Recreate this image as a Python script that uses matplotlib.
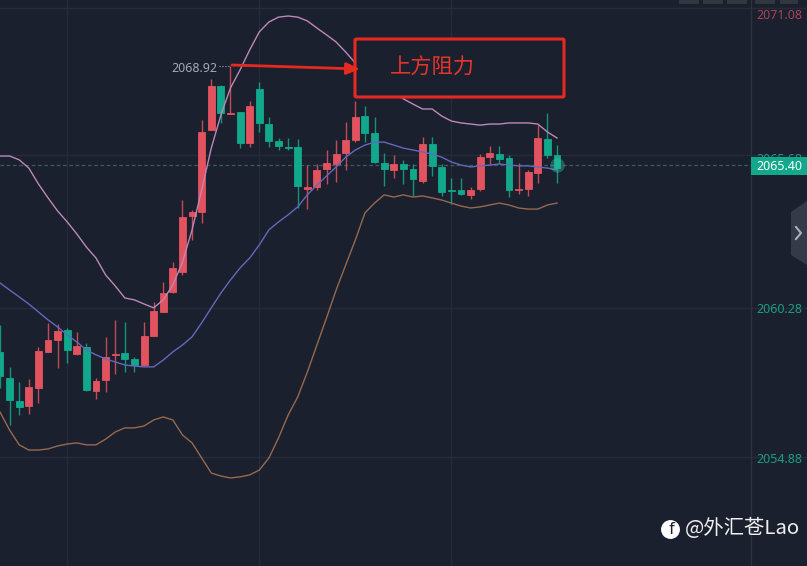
import matplotlib
matplotlib.use("Agg")
import matplotlib.pyplot as plt
from matplotlib.patches import FancyArrowPatch, FancyBboxPatch, Polygon, Rectangle

plt.rcParams['font.family'] = ['Noto Sans', 'Noto Sans CJK SC', 'DejaVu Sans']

# ======= CANDLES (price, one value per bar) =======
highs = [2059.79, 2058.25, 2057.70, 2057.81, 2058.98, 2059.86, 2059.82, 2059.68, 2059.53, 2059.13,
         2057.85, 2059.35, 2059.97, 2059.89, 2058.62, 2059.89, 2060.62, 2061.35, 2062.08, 2064.35,
         2063.99, 2067.28, 2068.78, 2068.56, 2069.25, 2067.57, 2067.97, 2068.67, 2067.39, 2066.62,
         2066.62, 2066.58, 2065.63, 2065.67, 2066.18, 2066.55, 2067.20, 2067.97, 2067.79, 2067.39,
         2066.07, 2066.00, 2065.82, 2065.67, 2066.66, 2066.66, 2065.67, 2065.16, 2065.16, 2064.83,
         2066.03, 2066.33, 2066.33, 2066.00, 2065.70, 2065.45, 2067.09, 2067.53, 2066.36]
lows = [2057.48, 2056.13, 2056.49, 2056.53, 2056.93, 2058.80, 2058.21, 2058.39, 2058.69, 2057.37,
        2057.08, 2057.33, 2057.99, 2058.06, 2058.06, 2058.28, 2059.38, 2060.26, 2060.95, 2061.61,
        2062.89, 2063.51, 2066.91, 2067.17, 2067.50, 2066.26, 2066.29, 2066.84, 2066.29, 2066.18,
        2066.18, 2064.06, 2064.02, 2064.72, 2064.94, 2065.01, 2065.45, 2066.47, 2066.47, 2065.70,
        2064.87, 2065.16, 2064.94, 2064.50, 2064.98, 2065.23, 2064.50, 2064.21, 2064.53, 2064.39,
        2064.68, 2065.67, 2065.70, 2064.46, 2064.57, 2064.50, 2064.98, 2065.89, 2064.98]
opens = [2058.80, 2057.85, 2057.00, 2056.82, 2057.48, 2058.80, 2059.24, 2059.60, 2058.72, 2058.98,
         2057.37, 2057.78, 2058.69, 2058.76, 2058.54, 2058.32, 2059.38, 2060.26, 2060.99, 2061.72,
         2063.77, 2063.91, 2066.91, 2068.52, 2067.50, 2067.57, 2066.44, 2068.41, 2067.13, 2066.51,
         2066.29, 2066.29, 2064.76, 2064.83, 2065.49, 2065.67, 2066.07, 2066.55, 2067.42, 2066.80,
         2065.70, 2065.45, 2065.67, 2065.49, 2065.05, 2066.40, 2065.56, 2064.72, 2064.72, 2064.53,
         2064.76, 2065.92, 2066.03, 2065.89, 2064.72, 2064.76, 2065.34, 2066.58, 2066.00]
closes = [2057.92, 2057.04, 2056.78, 2057.52, 2058.84, 2059.24, 2059.57, 2058.87, 2059.02, 2057.41,
          2057.74, 2058.62, 2058.72, 2058.54, 2058.32, 2059.38, 2060.30, 2060.95, 2061.87, 2063.73,
          2063.91, 2066.84, 2068.52, 2067.53, 2067.53, 2066.44, 2067.79, 2067.17, 2066.51, 2066.33,
          2066.25, 2064.87, 2064.83, 2065.45, 2065.70, 2066.03, 2066.55, 2067.39, 2066.80, 2065.74,
          2065.49, 2065.67, 2065.49, 2065.12, 2066.40, 2065.60, 2064.65, 2064.68, 2064.57, 2064.72,
          2065.92, 2066.07, 2065.85, 2064.72, 2064.76, 2065.38, 2066.62, 2066.00, 2065.52]

# ======= BOLLINGER BANDS =======
upper = [2065.96, 2065.96, 2065.82, 2065.52, 2064.94, 2064.43, 2063.95, 2063.55, 2063.11, 2062.63,
         2062.23, 2061.61, 2061.21, 2060.77, 2060.70, 2060.55, 2060.41, 2060.70, 2061.25, 2062.08,
         2063.26, 2064.72, 2066.25, 2067.46, 2068.45, 2069.11, 2069.84, 2070.50, 2070.86, 2071.04,
         2071.08, 2071.04, 2070.90, 2070.64, 2070.39, 2070.13, 2069.76, 2069.36, 2069.03, 2068.67,
         2068.48, 2068.37, 2068.05, 2067.86, 2067.68, 2067.68, 2067.42, 2067.24, 2067.17, 2067.13,
         2067.09, 2067.13, 2067.13, 2067.17, 2067.17, 2067.17, 2067.13, 2066.84, 2066.62]
middle = [2061.32, 2061.06, 2060.81, 2060.55, 2060.26, 2059.97, 2059.71, 2059.42, 2059.16, 2058.87,
          2058.69, 2058.54, 2058.43, 2058.32, 2058.28, 2058.25, 2058.25, 2058.50, 2058.80, 2059.05,
          2059.35, 2059.86, 2060.41, 2060.95, 2061.43, 2061.87, 2062.23, 2062.71, 2063.26, 2063.55,
          2063.81, 2064.10, 2064.54, 2064.90, 2065.23, 2065.56, 2065.92, 2066.18, 2066.36, 2066.47,
          2066.47, 2066.36, 2066.25, 2066.18, 2066.11, 2066.03, 2065.92, 2065.74, 2065.63, 2065.56,
          2065.60, 2065.63, 2065.67, 2065.63, 2065.60, 2065.60, 2065.56, 2065.52, 2065.45]
lower = [2056.60, 2055.94, 2055.40, 2055.21, 2055.21, 2055.25, 2055.36, 2055.43, 2055.47, 2055.40,
         2055.40, 2055.61, 2055.87, 2056.02, 2056.02, 2056.09, 2056.31, 2056.42, 2056.31, 2055.76,
         2055.47, 2054.92, 2054.37, 2054.26, 2054.19, 2054.23, 2054.30, 2054.48, 2054.92, 2055.65,
         2056.49, 2057.15, 2058.06, 2059.05, 2060.04, 2061.06, 2061.98, 2062.89, 2063.88, 2064.24,
         2064.54, 2064.46, 2064.54, 2064.46, 2064.50, 2064.43, 2064.35, 2064.24, 2064.13, 2064.06,
         2064.10, 2064.17, 2064.24, 2064.17, 2064.06, 2064.02, 2064.02, 2064.17, 2064.24]

# ======= AXIS TEXT =======
tick_prices = [2071.08, 2065.82, 2060.34, 2054.88]
tick_labels = ["2071.08", "2065.68", "2060.28", "2054.88"]
tick_colors = ["#a8445a", "#1c9c82", "#1c9c82", "#1c9c82"]
grid_prices = [2071.37, 2065.99, 2060.40, 2054.96]
grid_bars = [7, 27, 47]
last_price = 2065.63
last_label = "2065.40"
high_label = "2068.92"
note_text = "上方阻力"
mark_text = "@外汇苍Lao"

bg = "#1a202d"
red = "#e2535f"
green = "#12a88b"
W, H = 807, 566


def fx(x):
    return x / W


def fy(y):
    return 1 - y / H


fig = plt.figure(figsize=(W / 100, H / 100), dpi=100, facecolor=bg)
ax = fig.add_axes([0, 0, 1, 1], facecolor=bg)
ax.set_xlim(0, 84.03)
ax.set_ylim(2050.97, 2071.665)
ax.axis("off")

# grid
for p in grid_prices:
    ax.axhline(p, color="#252b38", lw=1, zorder=1)
for b in grid_bars:
    ax.axvline(b, color="#252b38", lw=1, zorder=1)
ax.axvline(78.2, color="#2b3240", lw=1, zorder=1)

# candles
for i in range(len(opens)):
    c = red if closes[i] >= opens[i] else green
    ax.vlines(i, lows[i], highs[i], color=c, lw=1, alpha=0.85, zorder=2)
    ax.bar(i, abs(closes[i] - opens[i]), bottom=min(opens[i], closes[i]), width=0.72,
           color=c, edgecolor=c, linewidth=0.6, zorder=2.5)

# bands
xs = list(range(len(upper)))
ax.plot(xs, upper, color="#bd88b8", lw=1, zorder=3)
ax.plot(xs, middle, color="#6468bd", lw=1, zorder=3)
ax.plot(xs, lower, color="#96694f", lw=1, zorder=3)

# last price
ax.plot([0, 78.2], [last_price, last_price], color="#3d5a60", lw=0.9, ls=(0, (3, 2)), zorder=1.5)
ax.scatter([58], [last_price], s=110, color="#2fd0ae", alpha=0.35, linewidths=0, zorder=4)

tr = ax.get_yaxis_transform()
for p, t, c in zip(tick_prices, tick_labels, tick_colors):
    ax.text(fx(756), p, t, color=c, fontsize=9, va="center", ha="left", transform=tr, zorder=5)

fig.patches.append(Rectangle((fx(751), fy(175)), 56 / W, 18 / H, transform=fig.transFigure,
                             facecolor=green, edgecolor="none", zorder=6))
fig.text(fx(756), fy(166.5), last_label, color="white", fontsize=9, va="center", ha="left", zorder=7)

# high label
fig.text(fx(217), fy(69), high_label, color="#a3a8b3", fontsize=9, va="center", ha="right")
ax.plot([219 / 9.603, 24], [highs[24], highs[24]], color="#a3a8b3", lw=0.8, ls=":", zorder=3)

# red note box (filled, it hides the band behind it) and arrow
fig.patches.append(FancyBboxPatch((fx(355), fy(97)), 209 / W, 58 / H, boxstyle="round,pad=0,rounding_size=0.002",
                                  transform=fig.transFigure, facecolor=bg, edgecolor="#e62a22", linewidth=2.2, zorder=8))
fig.text(fx(432), fy(68), note_text, color="#e8352b", fontsize=15.3, va="center", ha="center",
         family=['Noto Sans CJK SC', 'DejaVu Sans'], zorder=9)
fig.patches.append(FancyArrowPatch((fx(232), fy(65)), (fx(360), fy(69)), transform=fig.transFigure,
                                   arrowstyle="-|>,head_width=3.5,head_length=8", mutation_scale=1,
                                   color="#e62a22", lw=2, shrinkA=0, shrinkB=0, zorder=9))

# toolbar stubs and side handle
for x0, x1 in [(679, 699), (703, 723), (727, 747), (755, 775), (780, 798)]:
    fig.patches.append(Rectangle((fx(x0), fy(4)), (x1 - x0) / W, 4 / H, transform=fig.transFigure,
                                 facecolor="#31373f", edgecolor="none"))
fig.patches.append(Polygon([(fx(807), fy(201)), (fx(791), fy(212)), (fx(791), fy(255)), (fx(807), fy(265))],
                           transform=fig.transFigure, facecolor="#343a47", edgecolor="none"))
fig.lines.append(plt.Line2D([fx(796), fx(801), fx(796)], [fy(227), fy(233), fy(239)], transform=fig.transFigure,
                            color="#aab0bb", lw=1.5))

# watermark
ax.scatter([fx(670)], [fy(529)], s=185, color="white", linewidths=0, transform=fig.transFigure, zorder=9)
fig.text(fx(672), fy(530), "f", color=bg, fontsize=12, fontweight="bold", va="center", ha="center", zorder=10)
fig.text(fx(685), fy(528), mark_text, color="#f0f0f0", fontsize=14.7, va="center", ha="left",
         family=['Noto Sans CJK SC', 'DejaVu Sans'], zorder=10)

plt.savefig("out.png", dpi=100, facecolor=bg)
plt.close()
